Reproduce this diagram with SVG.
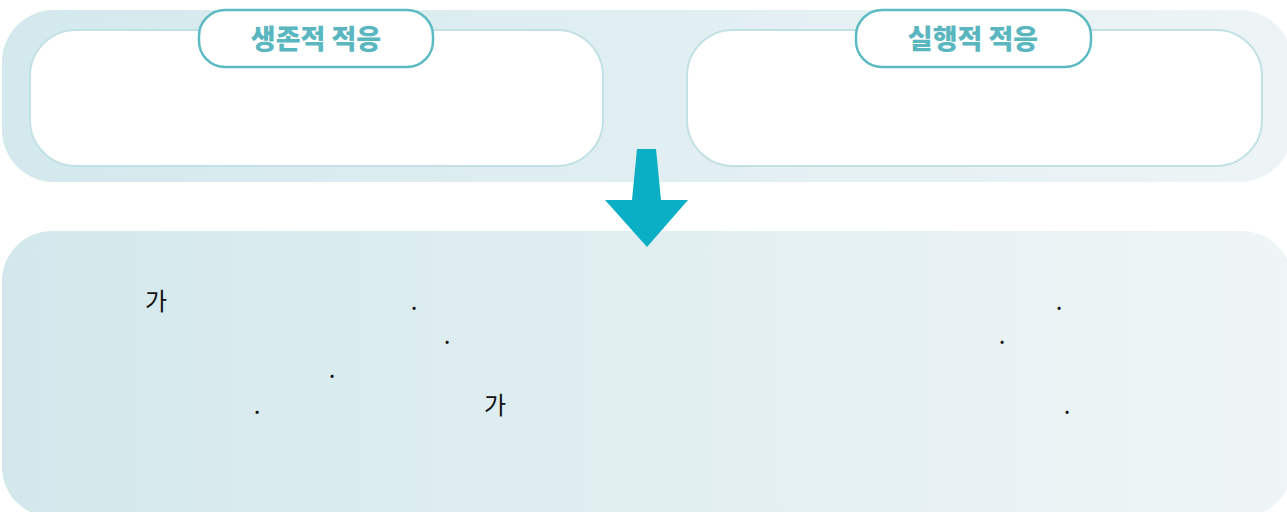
<svg xmlns="http://www.w3.org/2000/svg" width="1287" height="512" viewBox="0 0 1287 512">
  <defs>
    <linearGradient id="gTop" x1="0" y1="0" x2="1" y2="0">
      <stop offset="0" stop-color="#d3e9ed"/>
      <stop offset="1" stop-color="#eef4f6"/>
    </linearGradient>
    <linearGradient id="gBot" x1="0" y1="0" x2="1" y2="0">
      <stop offset="0" stop-color="#d3e8ec"/>
      <stop offset="1" stop-color="#eff5f6"/>
    </linearGradient>
  </defs>
  <style>
    .box { fill: #ffffff; stroke: #c2e1e5; stroke-width: 2; }
    .pill { fill: #ffffff; stroke: #5cbac3; stroke-width: 2.5; }
    .pillText { font-family: "Noto Sans CJK KR", "Noto Sans", sans-serif; font-weight: 900; font-size: 27px; fill: #5ab6bf; text-anchor: middle; }
    .body { font-family: "Noto Sans CJK KR", "Noto Sans", sans-serif; font-size: 24px; fill: #111111; }
    .dot { font-family: "Noto Sans CJK KR", "Noto Sans", sans-serif; font-size: 24px; fill: #111111; text-anchor: middle; }
  </style>
  <rect x="0" y="0" width="1287" height="512" fill="#ffffff"/>
  <g id="top-panel">
    <rect x="2" y="10" width="1290" height="172" rx="52" fill="url(#gTop)"/>
  </g>
  <g id="survival-adaptation">
    <rect class="box" x="30" y="30" width="573" height="136" rx="46"/>
    <rect class="pill" x="199" y="10" width="234" height="57" rx="26"/>
    <text class="pillText" x="316" y="49">생존적 적응</text>
  </g>
  <g id="practical-adaptation">
    <rect class="box" x="687" y="30" width="575" height="136" rx="46"/>
    <rect class="pill" x="856" y="10" width="235" height="57" rx="26"/>
    <text class="pillText" x="973" y="49">실행적 적응</text>
  </g>
  <g id="bottom-panel">
    <rect x="2" y="231" width="1290" height="286" rx="50" fill="url(#gBot)"/>
    <text class="body" x="145" y="310">가</text>
    <text class="dot" x="414" y="310">.</text>
    <text class="dot" x="1059" y="310">.</text>
    <text class="dot" x="447" y="344">.</text>
    <text class="dot" x="1002" y="344">.</text>
    <text class="dot" x="332" y="378">.</text>
    <text class="dot" x="257" y="414">.</text>
    <text class="body" x="484" y="414">가</text>
    <text class="dot" x="1067" y="414">.</text>
  </g>
  <g id="connectors">
    <polygon points="637,149 656,149 661,200 688,200 647,247 605,200 632,200" fill="#0aafc6"/>
  </g>
</svg>
